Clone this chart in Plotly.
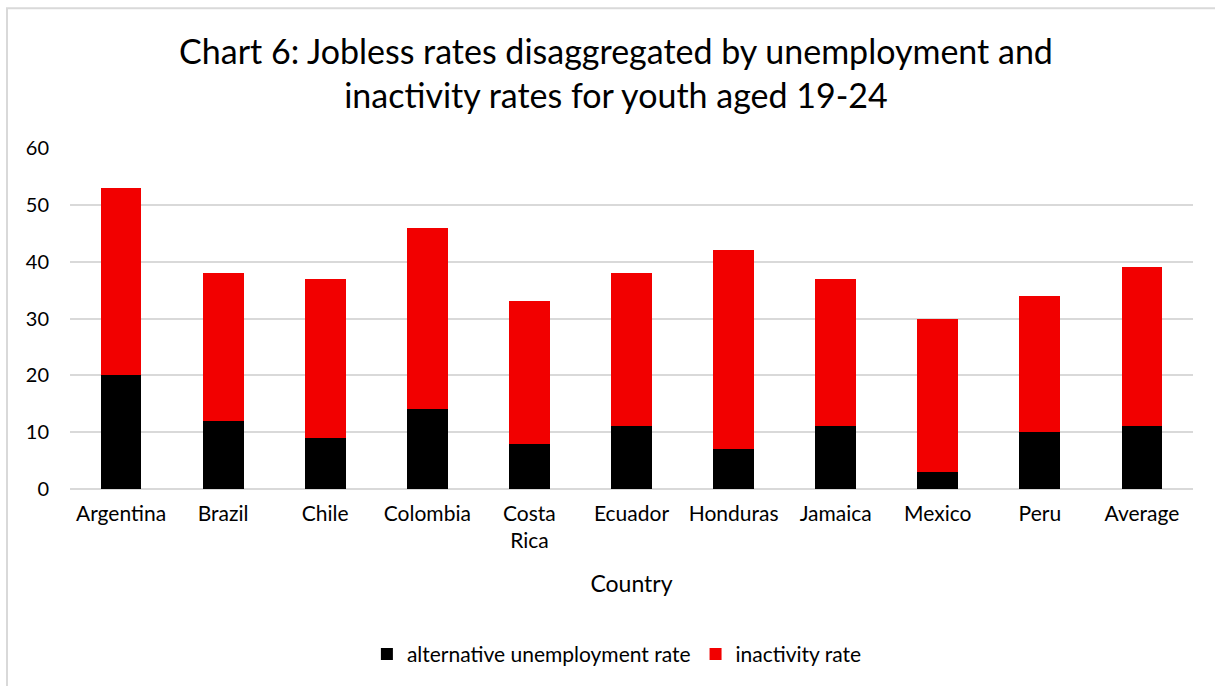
import plotly.graph_objects as go

countries = ["Argentina", "Brazil", "Chile", "Colombia", "Costa<br>Rica", "Ecuador",
             "Honduras", "Jamaica", "Mexico", "Peru", "Average"]
unemployment = [20, 12, 9, 14, 8, 11, 7, 11, 3, 10, 11]
inactivity = [33, 26, 28, 32, 25, 27, 35, 26, 27, 24, 28]

W, H = 1215, 686
L, R, T, B = 70, 22, 148, 196.5
pw, ph = W - L - R, H - T - B

FONT = "Lato"

fig = go.Figure()
fig.add_trace(go.Bar(x=countries, y=unemployment, name="alternative unemployment rate",
                     marker=dict(color="#000000", line=dict(width=0))))
fig.add_trace(go.Bar(x=countries, y=inactivity, name="inactivity rate",
                     marker=dict(color="#F20000", line=dict(width=0))))


def px2paper_x(px):
    return (px - L) / pw


def px2paper_y(py):
    return (H - B - py) / ph


# chart-area border (top and left edges visible)
fig.add_shape(type="rect", xref="paper", yref="paper",
              x0=px2paper_x(7), x1=px2paper_x(1240),
              y0=px2paper_y(720), y1=px2paper_y(8),
              line=dict(color="#D9D9D9", width=2), layer="below")

fig.update_layout(
    width=W, height=H,
    barmode="stack", bargap=0.6,
    margin=dict(l=L, r=R, t=T, b=B, autoexpand=False),
    paper_bgcolor="white", plot_bgcolor="white",
    font=dict(family=FONT, color="#000000"),
    title=dict(text="Chart 6: Jobless rates disaggregated by unemployment and<br>inactivity rates for youth aged 19-24",
               x=0.507, xanchor="center", y=1 - 64 / H, yanchor="middle",
               font=dict(family=FONT, size=34, color="#000000")),
    xaxis=dict(title=dict(text="Country", font=dict(size=23), standoff=24),
               tickfont=dict(size=21), showgrid=False, showline=False,
               ticks="", ticklabelstandoff=10),
    yaxis=dict(range=[0, 60], dtick=10, tickfont=dict(size=20),
               gridcolor="#D9D9D9", gridwidth=1.5, zeroline=True,
               zerolinecolor="#D9D9D9", zerolinewidth=1.5,
               ticks="", ticklabelstandoff=20),
    legend=dict(orientation="h", x=0.487, xanchor="center", y=px2paper_y(655),
                yanchor="middle", font=dict(size=21), traceorder="normal",
                itemwidth=30),
)

fig.write_html("out.html")
